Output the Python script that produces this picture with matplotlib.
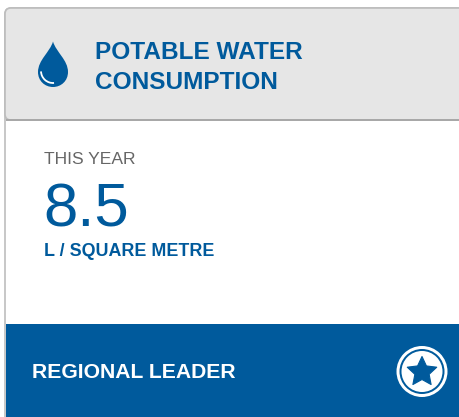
import numpy as np
import matplotlib
matplotlib.use("Agg")
import matplotlib.pyplot as plt
from matplotlib.patches import Rectangle, FancyBboxPatch, Circle, Polygon, Arc, PathPatch
from matplotlib.path import Path

# card content
title_lines = ["POTABLE WATER", "CONSUMPTION"]
period_label = "THIS YEAR"
value_label = "8.5"
unit_label = "L / SQUARE METRE"
band_label = "REGIONAL LEADER"

BLUE = "#005a9c"
GREY = "#e6e6e6"
EDGE = "#bdbdbd"

plt.rcParams["font.family"] = ["Liberation Sans", "DejaVu Sans"]

# axes in pixel coords, y down, so the card can be laid out as measured
fig = plt.figure(figsize=(4.59, 4.17), dpi=100)
ax = fig.add_axes([0, 0, 1, 1])
ax.set_xlim(0, 459)
ax.set_ylim(417, 0)
ax.axis("off")

# ----- card frame and header
ax.add_patch(FancyBboxPatch((5, 8), 480, 440, boxstyle="round,pad=0,rounding_size=6",
                            fc="white", ec=EDGE, lw=1.2, zorder=1))
ax.add_patch(FancyBboxPatch((5, 8), 480, 112, boxstyle="round,pad=0,rounding_size=6",
                            fc=GREY, ec=EDGE, lw=1.2, zorder=2))
ax.add_patch(Rectangle((5.7, 119), 454, 2, fc="#a8a8a8", ec="none", zorder=3))
ax.add_patch(Rectangle((5.7, 121), 454, 20, fc="white", ec="none", zorder=2))

# ----- bottom band
ax.add_patch(Rectangle((6, 324), 453, 93, fc=BLUE, ec="none", zorder=3))

# ----- water drop icon
drop = Path([(53, 41.5), (50, 52), (38, 60), (38, 72), (38, 81), (45, 87), (53, 87),
             (61, 87), (68, 81), (68, 72), (68, 60), (56, 52), (53, 41.5)],
            [Path.MOVETO] + [Path.CURVE4] * 12)
ax.add_patch(PathPatch(drop, fc=BLUE, ec="none", zorder=4))
ax.add_patch(Arc((53, 71), 24, 24, theta1=85, theta2=178, ec="white", lw=1.3, zorder=5))

# ----- star badge
cx, cy = 422, 371.5
ax.add_patch(Circle((cx, cy), 25.5, fc="white", ec="none", zorder=4))
ax.add_patch(Circle((cx, cy), 22.5, fc=BLUE, ec="none", zorder=5))
ax.add_patch(Circle((cx, cy), 20.5, fc="white", ec="none", zorder=6))
angles = -np.pi / 2 + np.arange(10) * np.pi / 5
radii = np.where(np.arange(10) % 2 == 0, 15.5, 7.5)
ax.add_patch(Polygon(np.c_[cx + radii * np.cos(angles), cy + 0.5 + radii * np.sin(angles)],
                     fc=BLUE, ec=BLUE, lw=0.8, joinstyle="round", zorder=7))

# ----- text, placed on measured baselines
ax.text(95, 58.5, title_lines[0], color=BLUE, fontsize=17.55, fontweight="bold",
        va="baseline", ha="left", zorder=8)
ax.text(95, 88.5, title_lines[1], color=BLUE, fontsize=17.55, fontweight="bold",
        va="baseline", ha="left", zorder=8)
ax.text(44, 163.5, period_label, color="#666666", fontsize=12.6, va="baseline", ha="left", zorder=8)
ax.text(43, 226.5, value_label, color=BLUE, fontsize=44.5, va="baseline", ha="left", zorder=8)
ax.text(44, 256, unit_label, color=BLUE, fontsize=12.85, fontweight="bold",
        va="baseline", ha="left", zorder=8)
ax.text(32, 378, band_label, color="white", fontsize=15.2, fontweight="bold",
        va="baseline", ha="left", zorder=8)

fig.savefig("out.png", dpi=100)
